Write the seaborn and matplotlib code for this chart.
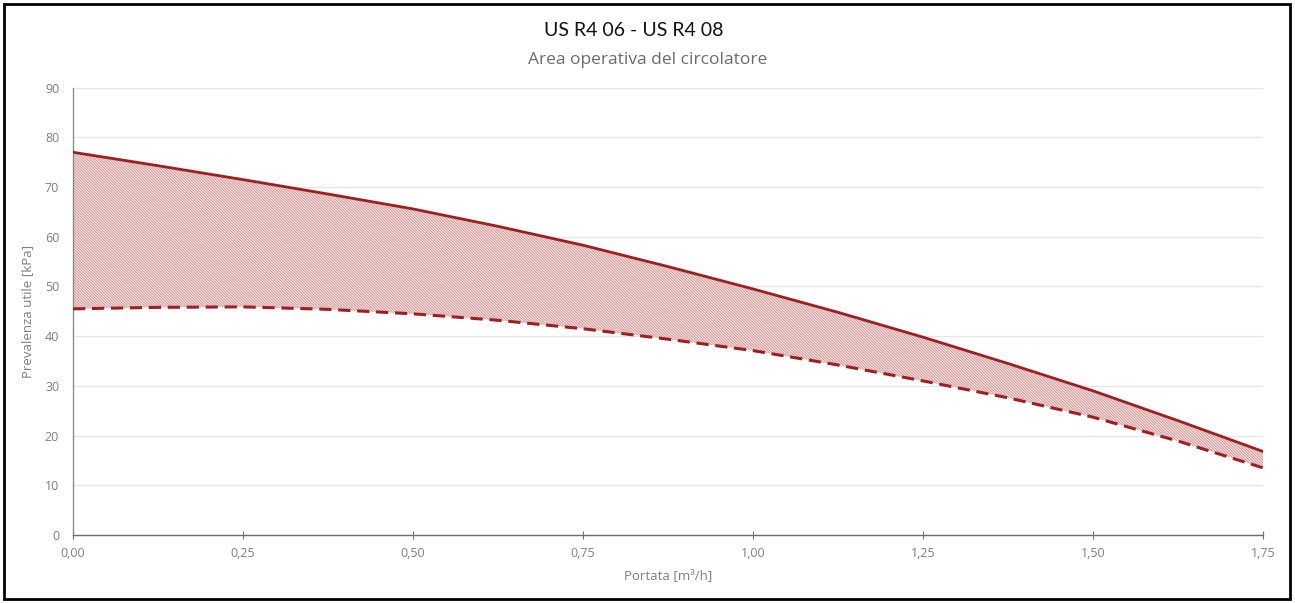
import matplotlib
matplotlib.use("Agg")
import matplotlib.pyplot as plt
from matplotlib.patches import Rectangle
from matplotlib.ticker import FuncFormatter
import numpy as np
import pandas as pd
import seaborn as sns

# Portata [m3/h]
portata = [0.0, 0.125, 0.25, 0.375, 0.5, 0.625, 0.75, 0.875,
           1.0, 1.125, 1.25, 1.375, 1.5, 1.625, 1.75]
# Prevalenza max (linea continua) e min (tratteggiata) [kPa]
prev_max = [77.0, 74.3, 71.5, 68.6, 65.6, 62.1, 58.3, 54.0,
            49.5, 44.8, 39.8, 34.5, 29.0, 23.0, 16.8]
prev_min = [45.5, 45.8, 45.9, 45.4, 44.5, 43.2, 41.5, 39.4,
            37.1, 34.2, 31.0, 27.6, 23.7, 18.9, 13.5]

x_ticks = [0.0, 0.25, 0.5, 0.75, 1.0, 1.25, 1.5, 1.75]
y_ticks = [0, 10, 20, 30, 40, 50, 60, 70, 80, 90]

title = "US R4 06 - US R4 08"
subtitle = "Area operativa del circolatore"
xlabel = "Portata [m³/h]"
ylabel = "Prevalenza utile [kPa]"

sns.set_style("white")
plt.rcParams["font.family"] = ["Open Sans", "DejaVu Sans"]
plt.rcParams["hatch.linewidth"] = 0.5
plt.rcParams["hatch.color"] = "#cc8080"

df = pd.DataFrame({"portata": portata, "max": prev_max, "min": prev_min})

fig = plt.figure(figsize=(12.95, 6.03), dpi=100)
ax = fig.add_axes([0.0564, 0.1128, 0.9189, 0.7418])

line_col = "#a01e1e"

# area operativa tratteggiata
ax.fill_between(df["portata"], df["min"], df["max"], facecolor="#f5e3e3",
                edgecolor="#cc8080", hatch="\\" * 12, linewidth=0, zorder=2)

sns.lineplot(data=df, x="portata", y="max", ax=ax, color=line_col,
             linewidth=2.0, zorder=3)
sns.lineplot(data=df, x="portata", y="min", ax=ax, color=line_col,
             linewidth=2.2, linestyle=(0, (4, 2.2)), zorder=3)

ax.set_xlim(0, 1.75)
ax.set_ylim(0, 90)
ax.set_xticks(x_ticks)
ax.set_yticks(y_ticks)
ax.xaxis.set_major_formatter(FuncFormatter(lambda v, p: f"{v:.2f}".replace(".", ",")))
ax.yaxis.grid(True, color="#e6e6e6", linewidth=1.0)
ax.set_axisbelow(True)

for s in ["top", "right"]:
    ax.spines[s].set_visible(False)
ax.spines["left"].set_color("#8c8c8c")
ax.spines["bottom"].set_color("#6e6e6e")
ax.spines["left"].set_linewidth(1.0)
ax.spines["bottom"].set_linewidth(1.0)

ax.tick_params(axis="y", length=0, labelsize=9, labelcolor="#7f7f7f", pad=10)
ax.tick_params(axis="x", direction="inout", length=6, color="#6e6e6e",
               labelsize=9, labelcolor="#7f7f7f", pad=6, bottom=True)

ax.set_xlabel(xlabel, fontsize=9.5, color="#7f7f7f", labelpad=6)
ax.set_ylabel(ylabel, fontsize=9.5, color="#7f7f7f", labelpad=8)

fig.text(0.489, 0.950, title, ha="center", va="center", fontsize=14,
         color="#111111", family=["Lato", "DejaVu Sans"])
fig.text(0.500, 0.901, subtitle, ha="center", va="center", fontsize=12.5,
         color="#6b6b6b")

# cornice esterna
fig.patches.append(Rectangle((0.003, 0.006), 0.993, 0.988, transform=fig.transFigure,
                             fill=False, edgecolor="black", linewidth=2.0))

fig.savefig("out.png", dpi=100)
